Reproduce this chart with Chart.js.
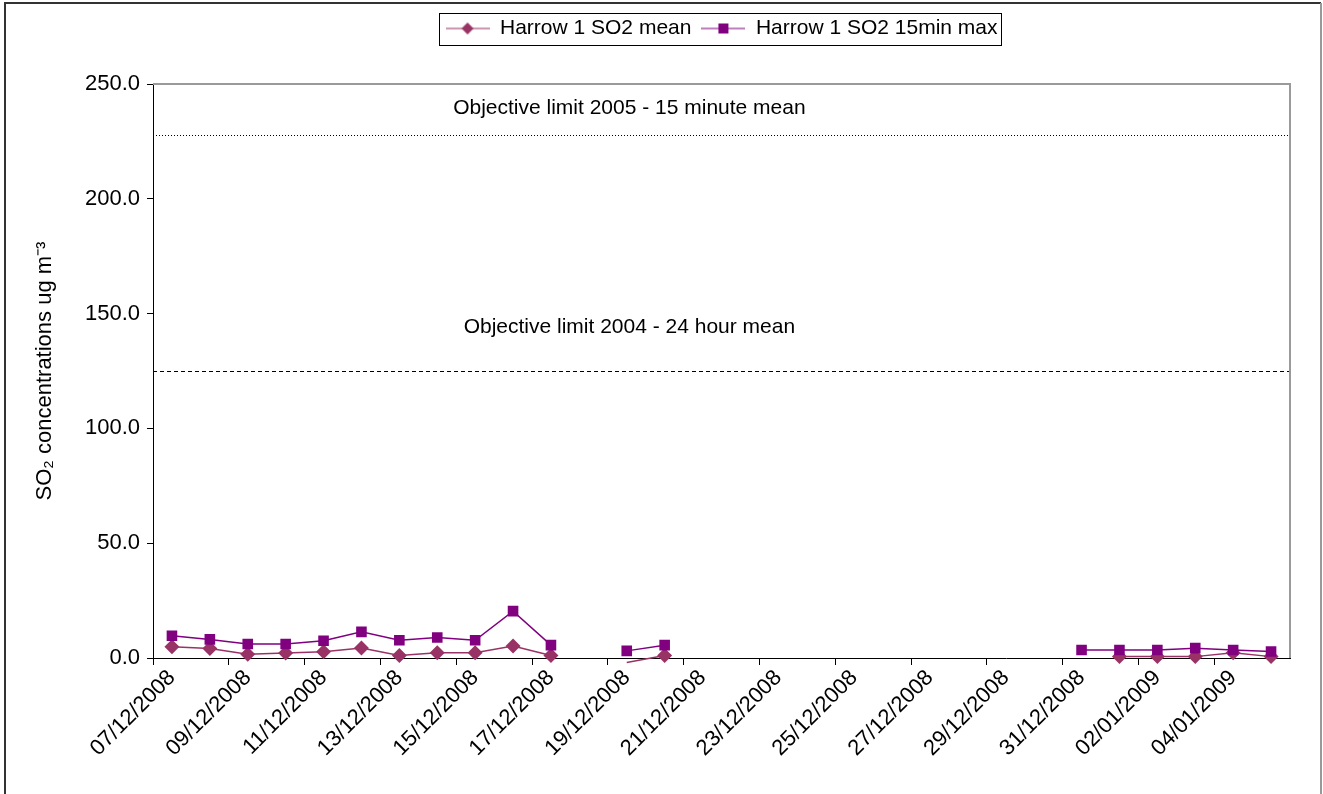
<!DOCTYPE html>
<html>
<head>
<meta charset="utf-8">
<title>Harrow 1 SO2</title>
<script src="https://cdn.jsdelivr.net/npm/chart.js@4.4.1/dist/chart.umd.min.js"></script>
<style>
  html, body { margin: 0; padding: 0; background: #fff; overflow: hidden; }
  #wrap { width: 1323px; height: 794px; }
</style>
</head>
<body>
<div id="wrap"><canvas id="so2Chart"></canvas></div>
<script>
// daily values (gaps = no data)
const days = [
  "07/12/2008", "08/12/2008", "09/12/2008", "10/12/2008", "11/12/2008", "12/12/2008",
  "13/12/2008", "14/12/2008", "15/12/2008", "16/12/2008", "17/12/2008", "18/12/2008",
  "19/12/2008", "20/12/2008", "21/12/2008", "22/12/2008", "23/12/2008", "24/12/2008",
  "25/12/2008", "26/12/2008", "27/12/2008", "28/12/2008", "29/12/2008", "30/12/2008",
  "31/12/2008", "01/01/2009", "02/01/2009", "03/01/2009", "04/01/2009", "05/01/2009"
];
const meanSO2 = [
  4.9, 4.1, 1.6, 2.2, 2.7, 4.4, 1.1, 2.3, 2.3, 5.2, 1.1, null,
  -2.0, 1.1, null, null, null, null, null, null, null, null, null, null,
  null, 0.6, 0.6, 0.6, 2.3, 0.6
];
const max15SO2 = [
  9.7, 8.1, 6.1, 6.1, 7.5, 11.4, 7.7, 8.9, 7.7, 20.4, 5.6, null,
  3.1, 5.6, null, null, null, null, null, null, null, null, null, null,
  3.5, 3.5, 3.5, 4.3, 3.5, 2.8
];
const yMin = 0, yMax = 250, yStep = 50;

// objective lines and their captions
const limitValues = [228, 125];
const limitLabels = ["Objective limit 2005 - 15 minute mean", "Objective limit 2004 - 24 hour mean"];
const limitDash = [[1, 2], [4, 3]];
const limitLabelAt = [239.5, 144]; // caption sits a bit above each line

const FONT = "'Liberation Sans', Arial, sans-serif";
const MEAN_COLOR = "#993366";
const MAX_COLOR = "#800080";

// legend swatch: short line with the marker in the middle, like Excel draws it
function legendIcon(color, shape) {
  const c = document.createElement("canvas");
  c.width = 44; c.height = 14;
  const g = c.getContext("2d");
  g.strokeStyle = color; g.fillStyle = color; g.lineWidth = 1.2;
  g.beginPath(); g.moveTo(0, 7); g.lineTo(44, 7); g.stroke();
  g.beginPath();
  if (shape === "diamond") {
    g.moveTo(22, 1); g.lineTo(28, 7); g.lineTo(22, 13); g.lineTo(16, 7);
  } else {
    g.rect(17, 2, 10, 10);
  }
  g.closePath(); g.fill();
  return c;
}

const framePlugin = {
  id: "frame",
  beforeDraw(chart) {
    const { ctx, width, height } = chart;
    ctx.save();
    ctx.fillStyle = "#fff";
    ctx.fillRect(0, 0, width, height);
    ctx.restore();
  },
  afterInit(chart) {
    // push the plot area down so it starts where the Excel one does
    const fit = chart.legend.fit;
    chart.legend.fit = function () {
      fit.call(this);
      this.height = 76;
    };
  },
  beforeDatasetsDraw(chart) {
    const { ctx, chartArea: a, scales: { y } } = chart;
    ctx.save();
    ctx.strokeStyle = "#000";
    ctx.lineWidth = 1;
    limitValues.forEach((v, i) => {
      const py = Math.round(y.getPixelForValue(v)) + 0.5;
      ctx.setLineDash(limitDash[i]);
      ctx.beginPath(); ctx.moveTo(a.left, py); ctx.lineTo(a.right, py); ctx.stroke();
    });
    ctx.setLineDash([]);
    ctx.fillStyle = "#000";
    ctx.font = "21px " + FONT;
    ctx.textAlign = "center";
    ctx.textBaseline = "middle";
    const cx = a.left + (a.right - a.left) * 0.419;
    limitLabels.forEach((t, i) => ctx.fillText(t, cx, y.getPixelForValue(limitLabelAt[i])));
    ctx.restore();
  },
  afterDraw(chart) {
    const { ctx, chartArea: a, legend } = chart;
    ctx.save();
    // plot area border (top/right in grey)
    ctx.strokeStyle = "#9a9a9a"; ctx.lineWidth = 2;
    ctx.beginPath(); ctx.moveTo(a.left, a.top); ctx.lineTo(a.right, a.top); ctx.lineTo(a.right, a.bottom); ctx.stroke();
    // legend box
    const hb = legend.legendHitBoxes;
    if (hb && hb.length) {
      const l = Math.min(...hb.map(b => b.left)) - 7;
      const r = Math.max(...hb.map(b => b.left + b.width)) + 3;
      const t = hb[0].top - 5;
      const h = hb[0].height + 11;
      ctx.strokeStyle = "#000"; ctx.lineWidth = 1;
      ctx.strokeRect(Math.round(l) + 0.5, Math.round(t) + 0.5, Math.round(r - l), Math.round(h));
    }
    // outer chart frame
    ctx.strokeStyle = "#333"; ctx.lineWidth = 2;
    ctx.beginPath(); ctx.moveTo(5, 800); ctx.lineTo(5, 3); ctx.lineTo(1321, 3); ctx.stroke();
    ctx.strokeStyle = "#999";
    ctx.beginPath(); ctx.moveTo(1321, 3); ctx.lineTo(1321, 800); ctx.stroke();
    ctx.restore();
  }
};

const evenOnly = (ctx) => (ctx.index % 2 === 0 ? "#000" : "rgba(0,0,0,0)");

new Chart(document.getElementById("so2Chart"), {
  type: "line",
  data: {
    labels: days,
    datasets: [
      {
        label: "Harrow 1 SO2 mean",
        data: meanSO2,
        borderColor: MEAN_COLOR,
        backgroundColor: MEAN_COLOR,
        borderWidth: 1.5,
        pointStyle: "rectRot",
        pointRadius: (c) => (c.raw != null && c.raw < yMin ? 0 : 7.5),
        pointBorderWidth: 0,
        clip: { left: 0, top: 0, right: 0, bottom: 8 },
        order: 1,
        tension: 0
      },
      {
        label: "Harrow 1 SO2 15min max",
        data: max15SO2,
        borderColor: MAX_COLOR,
        backgroundColor: MAX_COLOR,
        borderWidth: 1.5,
        pointStyle: "rect",
        pointRadius: 7.5,
        pointBorderWidth: 0,
        order: 0,
        tension: 0
      }
    ]
  },
  options: {
    responsive: true,
    maintainAspectRatio: false,
    animation: false,
    layout: { padding: { top: 8, right: 33, bottom: 0, left: 0 } },
    plugins: {
      tooltip: { enabled: false },
      legend: {
        position: "top",
        fullSize: false,
        labels: {
          font: { family: FONT, size: 21 },
          color: "#000",
          padding: 10,
          boxWidth: 44,
          usePointStyle: true,
          pointStyleWidth: 44,
          sort: (a, b) => a.datasetIndex - b.datasetIndex,
          generateLabels: (chart) => chart.data.datasets.map((ds, i) => ({
            text: ds.label,
            datasetIndex: i,
            fontColor: "#000",
            pointStyle: legendIcon(ds.borderColor, i === 0 ? "diamond" : "square"),
            lineWidth: 0,
            strokeStyle: "rgba(0,0,0,0)",
            fillStyle: "rgba(0,0,0,0)"
          }))
        }
      }
    },
    scales: {
      x: {
        type: "category",
        offset: true,
        afterFit: (s) => { s.height = 136; },
        grid: {
          offset: true,
          drawOnChartArea: false,
          tickLength: 7,
          color: evenOnly,
          tickColor: evenOnly
        },
        border: { color: "#000", width: 1 },
        ticks: {
          autoSkip: false,
          minRotation: 45,
          maxRotation: 45,
          padding: 0,
          color: "#000",
          font: { family: FONT, size: 22 },
          callback: (v, i) => (i % 2 === 0 ? days[i] : "")
        }
      },
      y: {
        min: yMin,
        max: yMax,
        afterFit: (s) => { s.width = 153; },
        grid: { drawOnChartArea: false, tickLength: 6, color: "#000" },
        border: { color: "#000", width: 1 },
        ticks: {
          stepSize: yStep,
          padding: 7,
          color: "#000",
          font: { family: FONT, size: 22 },
          callback: (v) => v.toFixed(1)
        },
        title: {
          display: true,
          text: "SO₂ concentrations ug m⁻³",
          color: "#000",
          font: { family: FONT, size: 22 },
          padding: { top: 32, bottom: 0 }
        }
      }
    }
  },
  plugins: [framePlugin]
});
</script>
</body>
</html>
